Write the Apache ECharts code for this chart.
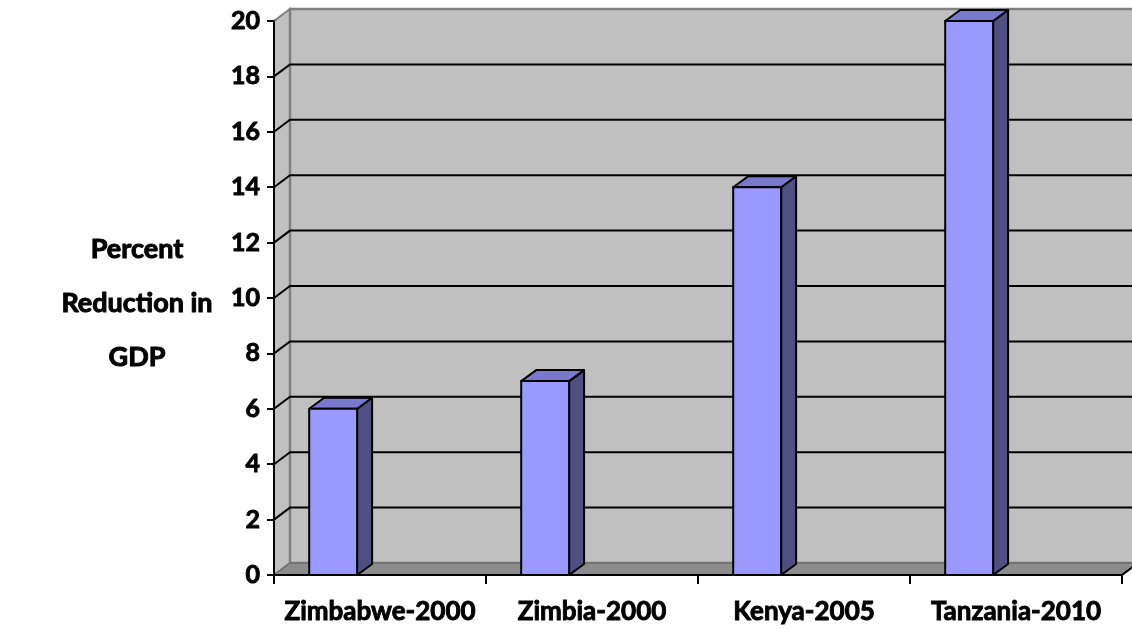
<!DOCTYPE html>
<html>
<head>
<meta charset="utf-8">
<script src="https://cdn.jsdelivr.net/npm/echarts@6/dist/echarts.min.js"></script>
<style>
  html, body { margin: 0; padding: 0; background: #ffffff; }
  #chart { width: 1132px; height: 629px; }
</style>
</head>
<body>
<div id="chart"></div>
<script>
// Data
const categories = ['Zimbabwe-2000', 'Zimbia-2000', 'Kenya-2005', 'Tanzania-2010'];
const reduction = [6, 7, 14, 20];
const yTicks = [0, 2, 4, 6, 8, 10, 12, 14, 16, 18, 20];
const yTitle = 'Percent\nReduction in\nGDP';

// 3D look: depth offset of the chart box and of the columns
const WALL_DX = 16, WALL_DY = -12;
const BAR_DX = 15, BAR_DY = -11;
const FONT = 'Lato, "Open Sans", sans-serif';
// a thin outline of the same colour gives the labels a heavier weight
const HEAVY = { textBorderColor: '#000', textBorderWidth: 0.9 };

const chart = echarts.init(document.getElementById('chart'), null, { renderer: 'canvas' });

function renderBox(params, api) {
  const bw = api.size([1, 0])[0];
  const left = api.coord([0, 0])[0] - bw / 2;
  const right = api.coord([categories.length - 1, 0])[0] + bw / 2;
  const y0 = api.coord([0, yTicks[0]])[1];
  const yTop = api.coord([0, yTicks[yTicks.length - 1]])[1];
  const children = [];
  // side (left) wall
  children.push({
    type: 'polygon',
    shape: { points: [[left, y0], [left, yTop], [left + WALL_DX, yTop + WALL_DY], [left + WALL_DX, y0 + WALL_DY]] },
    style: { fill: '#c0c0c0', stroke: '#808080', lineWidth: 2 }
  });
  // back wall
  children.push({
    type: 'rect',
    shape: { x: left + WALL_DX, y: yTop + WALL_DY, width: right - left + 20, height: y0 - yTop },
    style: { fill: '#c0c0c0', stroke: '#808080', lineWidth: 2.5 }
  });
  // floor
  children.push({
    type: 'polygon',
    shape: { points: [[left, y0], [right, y0], [right + WALL_DX, y0 + WALL_DY], [left + WALL_DX, y0 + WALL_DY]] },
    style: { fill: '#8c8c8c', stroke: '#6e6e6e', lineWidth: 1.5 }
  });
  // floor front edge turning back at the right end
  children.push({
    type: 'polyline',
    shape: { points: [[right, y0], [right + WALL_DX, y0 + WALL_DY]] },
    style: { stroke: '#000', lineWidth: 2, fill: null }
  });
  // gridlines on back and side walls
  yTicks.forEach(function (v) {
    if (v === yTicks[0] || v === yTicks[yTicks.length - 1]) return;
    const y = api.coord([0, v])[1];
    children.push({
      type: 'polyline',
      shape: { points: [[left, y], [left + WALL_DX, y + WALL_DY], [right + 40, y + WALL_DY]] },
      style: { stroke: '#000', lineWidth: 2, fill: null }
    });
  });
  return { type: 'group', children: children };
}

function renderBar(params, api) {
  const idx = api.value(0);
  const val = api.value(1);
  const bw = api.size([1, 0])[0];
  const start = api.coord([idx, 0])[0] - bw / 2;
  const x0 = start + bw * 0.166;
  const x1 = start + bw * 0.392;
  const yb = api.coord([idx, 0])[1];
  const yt = api.coord([idx, val])[1];
  const st = { stroke: '#000', lineWidth: 2, lineJoin: 'round' };
  return {
    type: 'group',
    children: [
      { type: 'polygon', shape: { points: [[x1, yt], [x1 + BAR_DX, yt + BAR_DY], [x1 + BAR_DX, yb + BAR_DY], [x1, yb]] },
        style: Object.assign({ fill: '#4f4f82' }, st) },
      { type: 'polygon', shape: { points: [[x0, yt], [x0 + BAR_DX, yt + BAR_DY], [x1 + BAR_DX, yt + BAR_DY], [x1, yt]] },
        style: Object.assign({ fill: '#7878cc' }, st) },
      { type: 'rect', shape: { x: x0, y: yt, width: x1 - x0, height: yb - yt },
        style: Object.assign({ fill: '#9999ff' }, st) }
    ]
  };
}

const option = {
  backgroundColor: '#ffffff',
  animation: false,
  grid: { left: 274, right: 10, top: 21, bottom: 54, containLabel: false },
  xAxis: {
    type: 'category',
    data: categories,
    boundaryGap: true,
    z: 5,
    axisLine: { show: true, lineStyle: { color: '#000', width: 2 } },
    axisTick: { show: true, interval: 0, length: 9, lineStyle: { color: '#000', width: 2 } },
    axisLabel: Object.assign({ interval: 0, color: '#000', fontFamily: FONT, fontWeight: 'bold', fontSize: 26, margin: 24 }, HEAVY),
    splitLine: { show: false }
  },
  yAxis: {
    type: 'value',
    min: 0, max: 20, interval: 2,
    z: 5,
    axisLine: { show: true, lineStyle: { color: '#000', width: 2 } },
    axisTick: { show: true, length: 7, lineStyle: { color: '#000', width: 2 } },
    axisLabel: Object.assign({ color: '#000', fontFamily: FONT, fontWeight: 'bold', fontSize: 25, margin: 14 }, HEAVY),
    splitLine: { show: false }
  },
  graphic: [{
    type: 'text',
    x: 137, y: 303,
    style: {
      text: yTitle,
      font: 'bold 27px ' + FONT,
      fill: '#000',
      stroke: '#000',
      lineWidth: 1,
      textAlign: 'center',
      textVerticalAlign: 'middle',
      lineHeight: 54
    }
  }],
  series: [
    { type: 'custom', renderItem: renderBox, data: [[0, 0]], clip: false, z: 1, silent: true },
    { type: 'custom', renderItem: renderBar, data: reduction.map(function (v, i) { return [i, v]; }),
      encode: { x: 0, y: 1 }, clip: false, z: 3 }
  ]
};
chart.setOption(option);
</script>
</body>
</html>
